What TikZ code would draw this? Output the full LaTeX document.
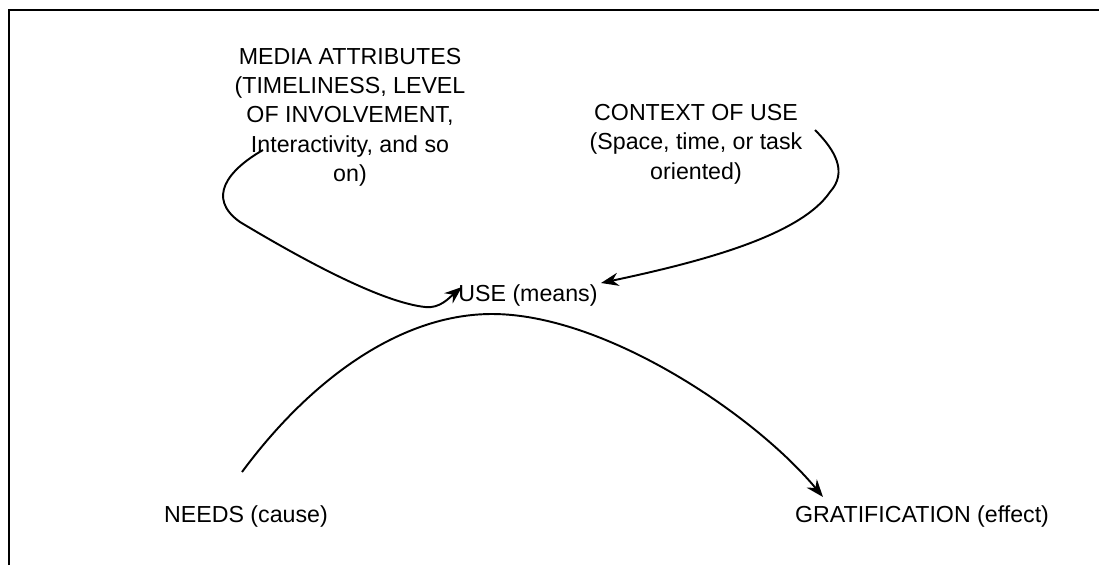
\documentclass[tikz,border=0pt]{standalone}
\usepackage{fontspec}
\setmainfont{Liberation Sans}
\usetikzlibrary{arrows.meta}

\begin{document}
\begin{tikzpicture}[x=0.02cm, y=-0.02cm,
        etiqueta/.style={font=\fontsize{13.2}{16.7}\selectfont, align=center, inner sep=0pt},
        flecha/.style={line width=1.1pt, -{Stealth[length=10pt, width=7.5pt]}}]
        \useasboundingbox (0,0) rectangle (1099,565);
        \draw[line width=0.9pt] (9,565) -- (9,10) -- (1099,10);

        % ~~~~ Etiquetas ~~~~ %
        \node[etiqueta] (media) at (350,117) {MEDIA ATTRIBUTES\\(TIMELINESS, LEVEL\\OF INVOLVEMENT,\\Interactivity, and so\\on)};
        \node[etiqueta] (contexto) at (696,144) {CONTEXT OF USE\\(Space, time, or task\\oriented)};
        \node[etiqueta] (uso) at (528,295) {USE (means)};
        \node[etiqueta] (needs) at (246,516) {NEEDS (cause)};
        \node[etiqueta] (grat) at (922,516) {GRATIFICATION (effect)};

        % ~~~~ Extremos ~~~~ %
        \coordinate (media-sal) at (263,150);
        \coordinate (uso-izq) at (462,287);
        \coordinate (ctx-sal) at (815,130);
        \coordinate (uso-der) at (601,283);
        \coordinate (needs-sal) at (242,472);
        \coordinate (grat-ent) at (823,497);

        % ~~~~ Flechas ~~~~ %
        \draw[flecha] (media-sal) .. controls (228,170) and (206,198) .. (240,222)
            .. controls (300,258) and (380,302) .. (425,307)
            .. controls (440,309) and (450,297) .. (uso-izq);
        \draw[flecha] (ctx-sal) .. controls (835,150) and (848,172) .. (830,192)
            .. controls (800,236) and (700,262) .. (uso-der);
        \draw[flecha] (needs-sal) .. controls (310,380) and (400,314) .. (492,314)
            .. controls (605,314) and (755,415) .. (grat-ent);
    \end{tikzpicture}
\end{document}
